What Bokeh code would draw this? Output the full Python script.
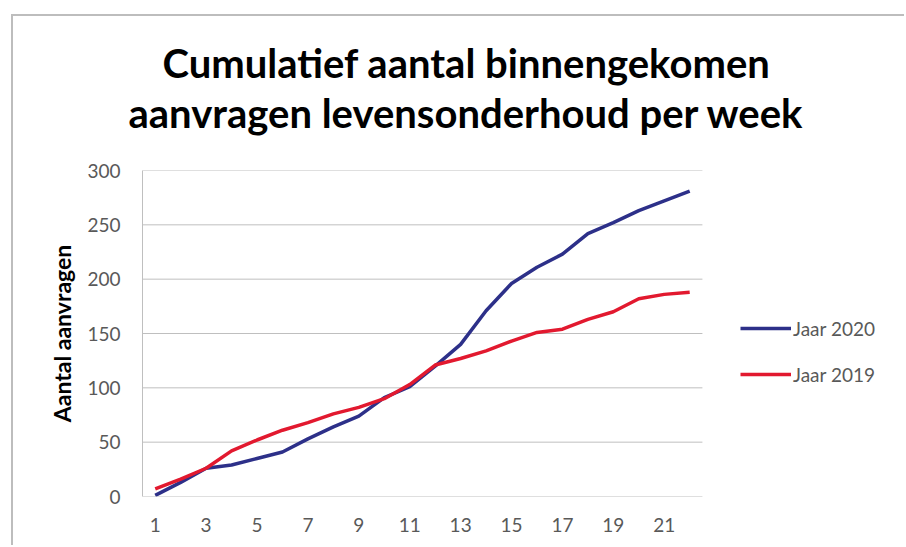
from bokeh.plotting import figure
from bokeh.models import Title, Legend, LegendItem, FixedTicker, Range1d
from bokeh.embed import file_html
from bokeh.resources import INLINE

weeks = list(range(1, 23))
jaar_2020 = [1, 13, 26, 29, 35, 41, 53, 64, 74, 91, 101, 120, 140, 171, 196, 211, 223, 242, 252, 263, 272, 281]
jaar_2019 = [7, 16, 26, 42, 52, 61, 68, 76, 82, 90, 103, 121, 127, 134, 143, 151, 154, 163, 170, 182, 186, 188]
x_ticks = [1, 3, 5, 7, 9, 11, 13, 15, 17, 19, 21]
y_ticks = [0, 50, 100, 150, 200, 250, 300]

FONT = "Lato"
W, H = 904, 545
GRID = "#bfbfbf"
p = figure(width=W, height=H, output_backend="svg", toolbar_location=None,
           x_range=Range1d(0.5, 30.44), y_range=Range1d(0, 300),
           min_border_left=142, min_border_right=0, min_border_top=170, min_border_bottom=49)
p.outline_line_color = None
p.background_fill_color = "white"
p.border_fill_alpha = 0
# outer chart frame: left and top edges
p.styles = {
    "background-color": "white",
    "background-image": "linear-gradient(#bdbdbd, #bdbdbd), linear-gradient(#bdbdbd, #bdbdbd)",
    "background-size": "2px 100%, 100% 2px",
    "background-position": "11px 14px, 11px 14px",
    "background-repeat": "no-repeat",
}

# horizontal gridlines only across the category area
p.segment(x0=[weeks[0] - 0.5] * len(y_ticks), x1=[weeks[-1] + 0.5] * len(y_ticks),
          y0=y_ticks, y1=y_ticks, line_color=GRID, line_width=1)

l1 = p.line(weeks, jaar_2020, line_color="#2d3089", line_width=3.5)
l2 = p.line(weeks, jaar_2019, line_color="#e2192f", line_width=3.5)

p.add_layout(Title(text=" ", text_font_size="1px", standoff=31), "above")
p.add_layout(Title(text="aanvragen levensonderhoud per week", align="left",
                   text_font=FONT, text_font_size="40px", text_font_style="bold",
                   text_color="black", offset=-14, standoff=0), "above")
p.add_layout(Title(text="Cumulatief aantal binnengekomen", align="left",
                   text_font=FONT, text_font_size="40px", text_font_style="bold",
                   text_color="black", offset=20, standoff=0), "above")

p.xaxis.ticker = FixedTicker(ticks=x_ticks)
p.yaxis.ticker = FixedTicker(ticks=y_ticks)
for ax in (p.xaxis[0], p.yaxis[0]):
    ax.major_tick_line_color = None
    ax.minor_tick_line_color = None
    ax.major_tick_out = 0
    ax.major_tick_in = 0
    ax.minor_tick_out = 0
    ax.major_label_text_font = FONT
    ax.major_label_text_font_size = "19px"
    ax.major_label_text_color = "#595959"
p.xaxis.axis_line_color = None
p.yaxis.axis_line_color = GRID
p.xaxis.major_label_standoff = 21
p.yaxis.major_label_standoff = 22
p.yaxis.axis_label = "Aantal aanvragen"
p.yaxis.axis_label_text_font = FONT
p.yaxis.axis_label_text_font_size = "23px"
p.yaxis.axis_label_text_font_style = "bold"
p.yaxis.axis_label_text_color = "black"
p.yaxis.axis_label_standoff = 8

p.xgrid.grid_line_color = None
p.ygrid.grid_line_color = None

legend = Legend(items=[LegendItem(label="Jaar 2020", renderers=[l1]),
                       LegendItem(label="Jaar 2019", renderers=[l2])],
                location=(598, 110), orientation="vertical",
                glyph_width=51, glyph_height=24, label_height=24, spacing=22,
                label_standoff=2, padding=0, margin=0,
                label_text_font=FONT, label_text_font_size="19px",
                label_text_color="#595959",
                border_line_color=None, background_fill_alpha=0)
p.add_layout(legend, "center")

open("out.html", "w").write(file_html(p, INLINE))
